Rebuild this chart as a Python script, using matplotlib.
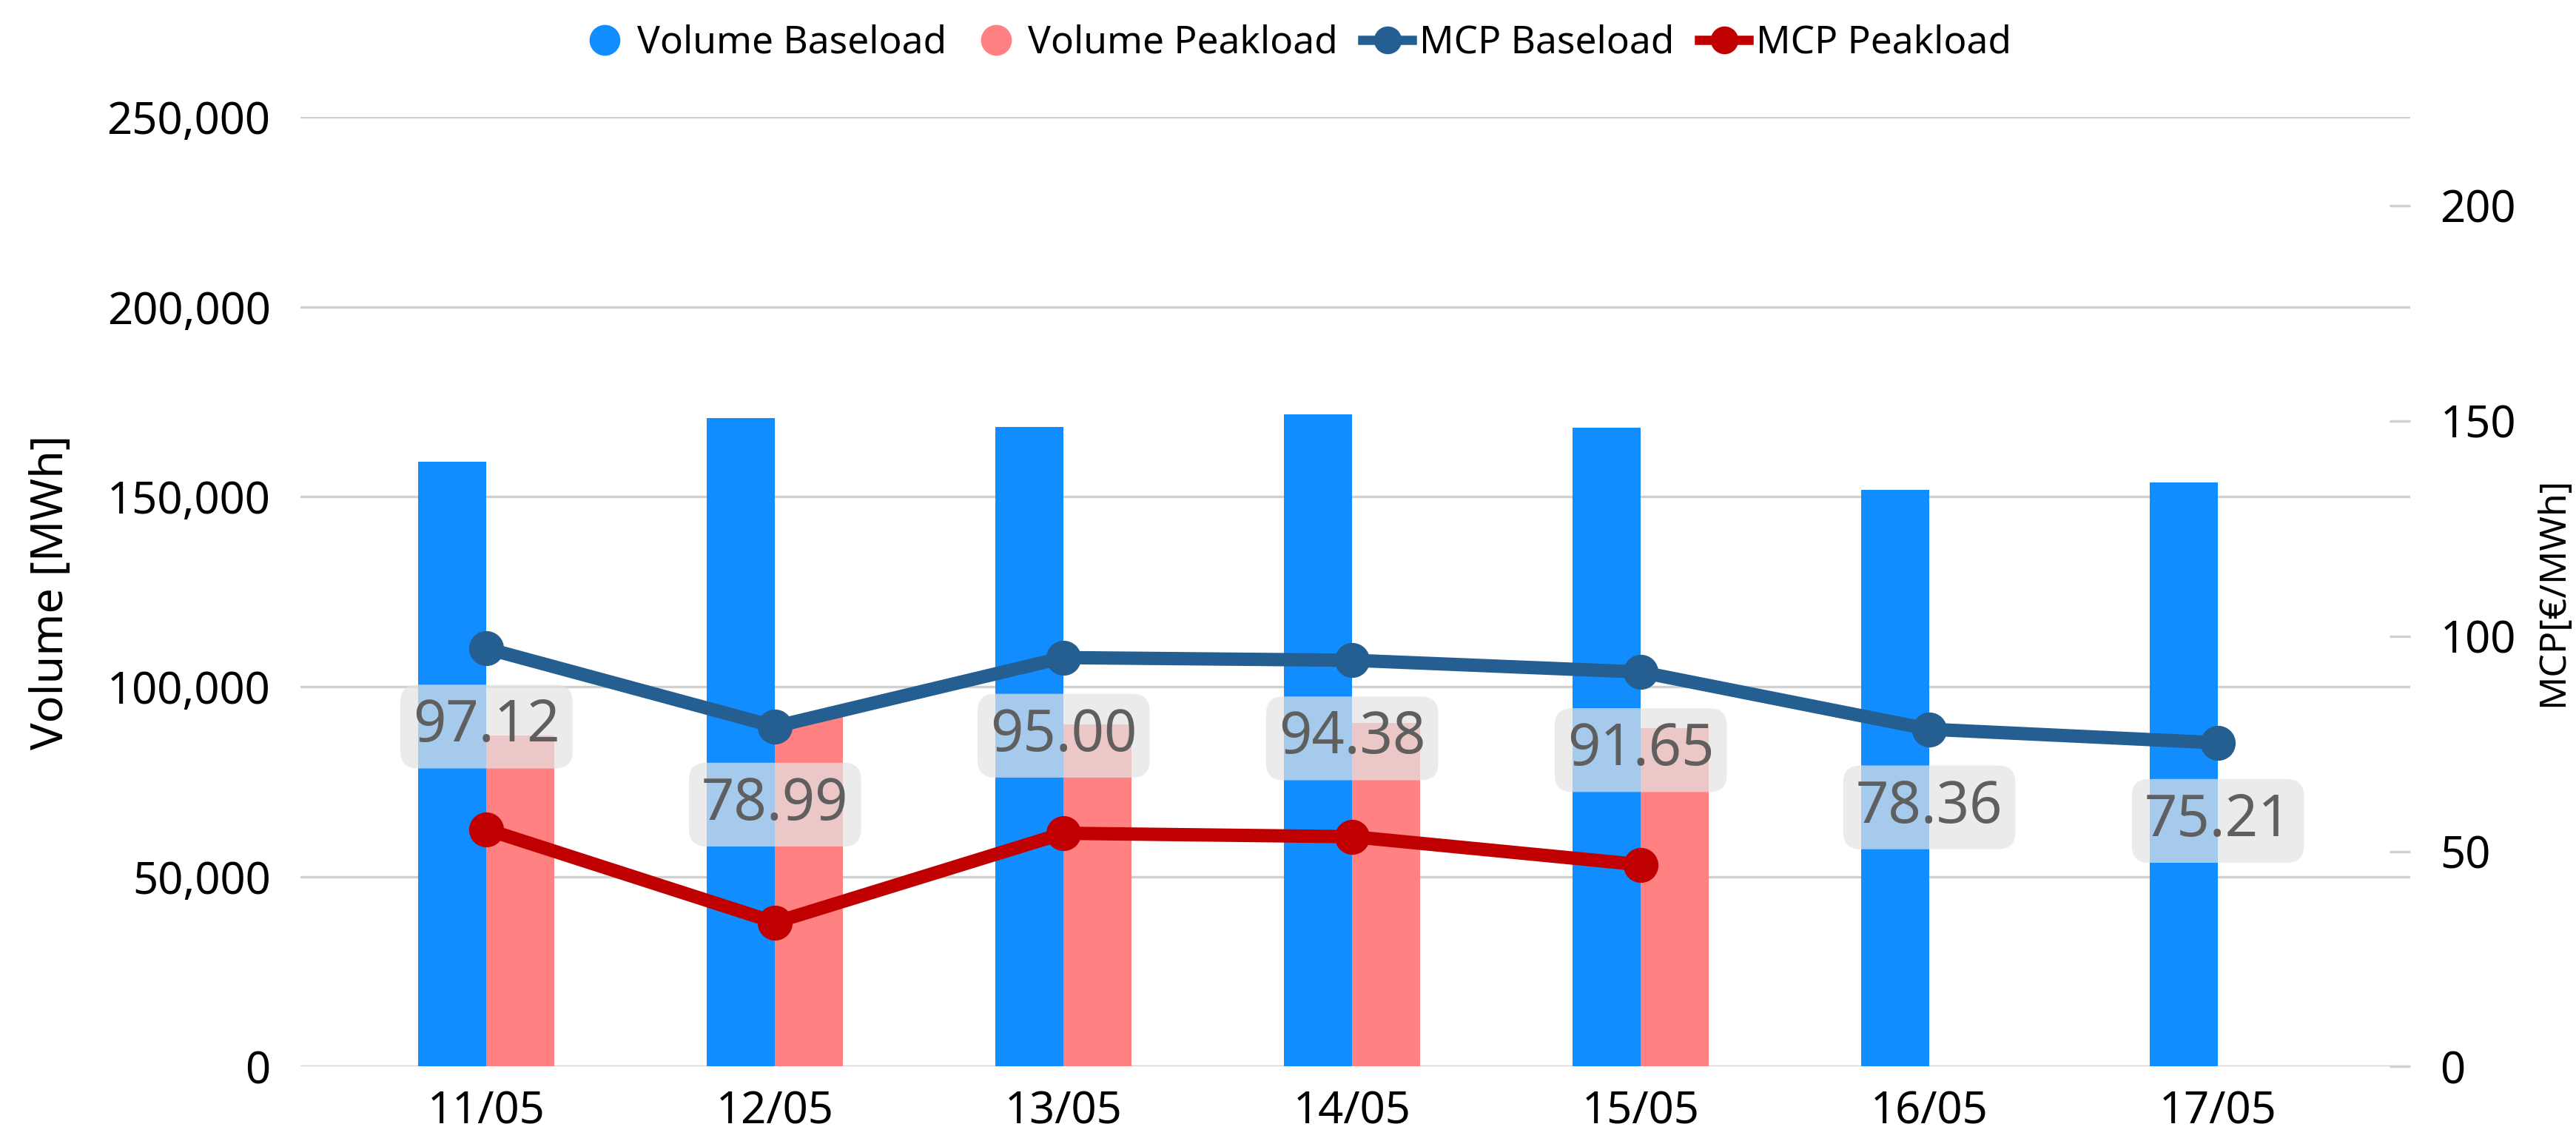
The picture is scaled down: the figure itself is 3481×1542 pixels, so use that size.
import numpy as np
import matplotlib
matplotlib.use('Agg')
import matplotlib.pyplot as plt
from matplotlib.lines import Line2D
from matplotlib.ticker import FuncFormatter

plt.rcParams['font.family'] = ['Noto Sans', 'DejaVu Sans']

# data
dates = ['11/05', '12/05', '13/05', '14/05', '15/05', '16/05', '17/05']
vol_base = [159200, 170800, 168300, 171600, 168100, 151900, 153700]
vol_peak = [87100, 92200, 90100, 90400, 89100]
mcp_base = [97.12, 78.99, 95.00, 94.38, 91.65, 78.36, 75.21]
mcp_peak = [55.1, 33.5, 54.2, 53.4, 46.9]

c_vbase = '#128DFF'
c_vpeak = '#FF8181'
c_mbase = '#255E91'
c_mpeak = '#C00000'
c_grid = '#D0D0D0'

fig = plt.figure(figsize=(34.81, 15.42), dpi=100)
ax = fig.add_axes([0.1166, 0.0652, 0.8191, 0.8324])
ax2 = ax.twinx()

x = np.arange(len(dates))
w = 0.236
ax.bar(x - w / 2, vol_base, width=w, color=c_vbase, zorder=2)
ax.bar(x[:len(vol_peak)] + w / 2, vol_peak, width=w, color=c_vpeak, zorder=2)

ax.set_xlim(-0.645, 6.667)
ax.set_ylim(0, 250000)
ax.set_yticks(np.arange(0, 250001, 50000))
ax.yaxis.set_major_formatter(FuncFormatter(lambda v, p: f'{int(v):,}'))
ax.set_xticks(x)
ax.set_xticklabels(dates)
ax.yaxis.grid(True, color=c_grid, lw=2.4)
ax.set_axisbelow(True)
ax.tick_params(axis='y', length=0, pad=29, labelsize=43)
ax.tick_params(axis='x', length=0, pad=22, labelsize=43)

# MCP lines on the right axis
ax2.plot(x, mcp_base, color=c_mbase, lw=13, marker='o', markersize=33, zorder=3)
ax2.plot(x[:len(mcp_peak)], mcp_peak, color=c_mpeak, lw=13, marker='o', markersize=33, zorder=3)
ax2.set_ylim(0, 220.6)
ax2.set_yticks(np.arange(0, 201, 50))
ax2.tick_params(axis='y', direction='in', length=20, width=2.4, color=c_grid, pad=29, labelsize=43)

for i, v in enumerate(mcp_base):
    ax2.annotate(f'{v:.2f}', (x[i], v), xytext=(0, -76), textcoords='offset points',
                 ha='center', va='center', fontsize=56, color='#5f5f5f', zorder=5,
                 bbox=dict(boxstyle='round,pad=0.22,rounding_size=0.3', fc='#E4E4E4', ec='none', alpha=0.71))

for a in (ax, ax2):
    for s in a.spines.values():
        s.set_visible(False)

fig.text(70 / 3481, 0.481, 'Volume [MWh]', rotation=90, ha='center', va='center', fontsize=44)
fig.text(3450 / 3481, 0.481, 'MCP[€/MWh]', rotation=90, ha='center', va='center', fontsize=36)

handles = [
    Line2D([], [], ls='none', marker='o', markersize=29, color=c_vbase),
    Line2D([], [], ls='none', marker='o', markersize=29, color=c_vpeak),
    Line2D([], [], lw=9, marker='o', markersize=26, color=c_mbase),
    Line2D([], [], lw=9, marker='o', markersize=26, color=c_mpeak),
]
labels = ['Volume Baseload', 'Volume Peakload', 'MCP Baseload', 'MCP Peakload']
fig.legend(handles, labels, loc='center', bbox_to_anchor=(0.503, 1 - 58 / 1542), ncol=4,
           frameon=False, fontsize=37, handlelength=1.3, handletextpad=0.2, columnspacing=0.65)

fig.savefig('out.png', dpi=100)
